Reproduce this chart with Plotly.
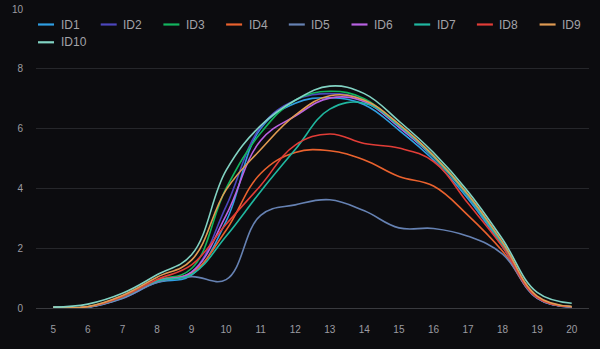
import plotly.graph_objects as go

# Hourly values per sensor (hour of day 5..20)
hours = list(range(5, 21))
series_names = ["ID1", "ID2", "ID3", "ID4", "ID5", "ID6", "ID7", "ID8", "ID9", "ID10"]

id1 = [0.02, 0.03, 0.33, 0.85, 1.10, 2.90, 6.00, 6.85, 7.03, 6.80, 5.95, 4.95, 3.65, 2.05, 0.33, 0.03]
id2 = [0.02, 0.03, 0.35, 0.90, 1.20, 3.40, 6.05, 6.95, 7.17, 6.95, 6.05, 5.05, 3.75, 2.10, 0.35, 0.04]
id3 = [0.02, 0.04, 0.38, 0.92, 1.32, 4.00, 5.85, 6.95, 7.25, 7.00, 6.10, 5.10, 3.80, 2.15, 0.37, 0.05]
id4 = [0.02, 0.03, 0.35, 0.92, 1.17, 2.60, 4.50, 5.20, 5.26, 4.95, 4.40, 4.08, 3.10, 1.90, 0.34, 0.04]
id5 = [0.02, 0.03, 0.32, 0.85, 1.05, 0.95, 3.10, 3.45, 3.62, 3.25, 2.68, 2.66, 2.40, 1.80, 0.32, 0.03]
id6 = [0.02, 0.03, 0.34, 0.90, 1.20, 3.10, 5.60, 6.42, 7.02, 6.90, 6.05, 5.05, 3.75, 2.10, 0.34, 0.04]
id7 = [0.02, 0.03, 0.35, 0.90, 1.12, 2.40, 3.90, 5.30, 6.65, 6.85, 6.10, 5.05, 3.75, 2.10, 0.35, 0.04]
id8 = [0.02, 0.04, 0.38, 0.95, 1.44, 2.80, 4.10, 5.45, 5.82, 5.50, 5.35, 4.90, 3.50, 2.05, 0.35, 0.04]
id9 = [0.02, 0.05, 0.42, 1.03, 1.60, 3.95, 5.30, 6.45, 7.10, 6.95, 6.15, 5.10, 3.80, 2.20, 0.40, 0.05]
id10 = [0.03, 0.13, 0.49, 1.11, 1.78, 4.60, 6.10, 6.95, 7.42, 7.17, 6.25, 5.20, 3.90, 2.30, 0.52, 0.16]

series_values = [id1, id2, id3, id4, id5, id6, id7, id8, id9, id10]
colors = ["#2f9fe3", "#4d47bd", "#13b55e", "#ea622e", "#6682b3",
          "#b962e2", "#20b8a0", "#e23d37", "#e09b52", "#82d3c3"]

y_ticks = [0, 2, 4, 6, 8, 10]

BG = "#0c0c0f"
GRID = "#26272b"
W, H = 600, 349
ML, MR, MT, MB = 36, 11, 8, 41
PW, PH = W - ML - MR, H - MT - MB
# leave one pixel of headroom so the top gridline is drawn inside the plot
Y_TOP = y_ticks[-1] * PH / (PH - 1)

fig = go.Figure()
for name, vals, col in zip(series_names, series_values, colors):
    fig.add_trace(go.Scatter(
        x=hours, y=vals, name=name, mode="lines",
        line=dict(color=col, width=1.6, shape="spline", smoothing=1.15),
        showlegend=False, hoverinfo="x+y+name",
    ))

# Legend drawn as short line swatches with labels, two rows
def px_to_paper(px, py):
    return (px - ML) / PW, (H - MB - py) / PH

shapes = []
annotations = []
for i, (name, col) in enumerate(zip(series_names, colors)):
    row, colidx = (0, i) if i < 9 else (1, i - 9)
    x0 = 38 + colidx * 62.7
    yy = 24.5 if row == 0 else 42.3
    ax0, ay = px_to_paper(x0, yy)
    ax1, _ = px_to_paper(x0 + 16, yy)
    shapes.append(dict(type="line", xref="paper", yref="paper",
                       x0=ax0, x1=ax1, y0=ay, y1=ay,
                       line=dict(color=col, width=2.2)))
    tx, _ = px_to_paper(x0 + 20.5, yy)
    annotations.append(dict(text=name, xref="paper", yref="paper", x=tx, y=ay,
                            xanchor="left", yanchor="middle", showarrow=False,
                            font=dict(color="#a3a3a8", size=12,
                                      family="Liberation Sans, Arial, sans-serif")))

fig.update_layout(
    width=W, height=H,
    margin=dict(l=ML, r=MR, t=MT, b=MB, autoexpand=False),
    paper_bgcolor=BG, plot_bgcolor=BG,
    font=dict(family="Liberation Sans, Arial, sans-serif", color="#9c9ca2", size=10),
    shapes=shapes, annotations=annotations,
    xaxis=dict(range=[4.5, 20.5], tickvals=hours, ticktext=[str(h) for h in hours],
               showgrid=False, zeroline=False, showline=False, ticks="",
               automargin=False, ticklabelstandoff=14,
               tickfont=dict(size=10, color="#9c9ca2")),
    yaxis=dict(range=[0, Y_TOP], tickvals=y_ticks, showgrid=True, gridcolor=GRID,
               gridwidth=1, zeroline=True, zerolinecolor="#3a3b3f", zerolinewidth=1,
               showline=False, ticks="", automargin=False, ticklabelstandoff=12,
               tickfont=dict(size=10, color="#9c9ca2")),
    hovermode="x",
)

fig.write_html("out.html")
